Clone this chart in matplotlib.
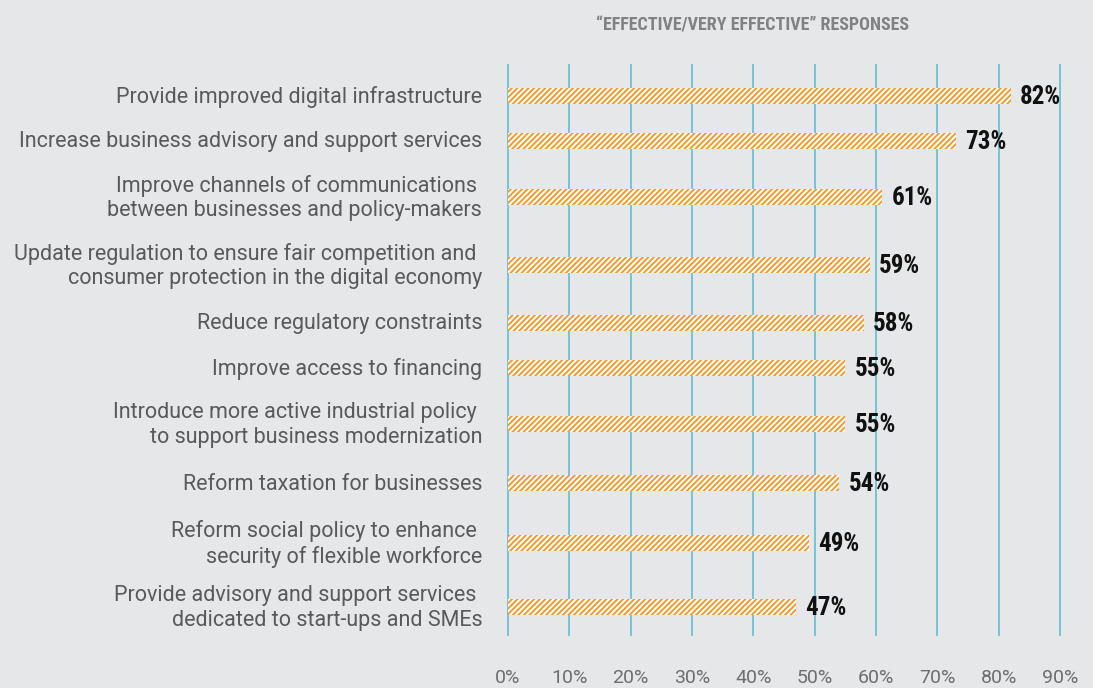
import matplotlib.pyplot as plt
import matplotlib as mpl

labels = ["Provide improved digital infrastructure",
          "Increase business advisory and support services",
          "Improve channels of communications \nbetween businesses and policy-makers",
          "Update regulation to ensure fair competition and \nconsumer protection in the digital economy",
          "Reduce regulatory constraints",
          "Improve access to financing",
          "Introduce more active industrial policy \nto support business modernization",
          "Reform taxation for businesses",
          "Reform social policy to enhance \nsecurity of flexible workforce",
          "Provide advisory and support services \ndedicated to start-ups and SMEs"]
values = [82, 73, 61, 59, 58, 55, 55, 54, 49, 47]
ticks = [0, 10, 20, 30, 40, 50, 60, 70, 80, 90]

# row centres in pixels from top (rows with two-line labels get more room)
rows = [96, 141, 197, 265, 323, 368, 424, 483, 543, 607]

bg = "#e6e7e8"
orange = "#f7941d"
narrow = ["Roboto Condensed", "DejaVu Sans"]
mpl.rcParams['hatch.linewidth'] = 1.3

fig = plt.figure(figsize=(10.93, 6.88), dpi=100, facecolor=bg)
W, H = 1093, 688
top, bot = 65, 635
ax = fig.add_axes([508 / W, 1 - bot / H, (1060 - 508) / W, (bot - top) / H])
ax.set_facecolor(bg)
ax.set_xlim(0, 90)
ax.set_ylim(bot, top)

for t in ticks:
    ax.axvline(t, color="#6cc0d6", lw=1.3, zorder=0, clip_on=False)

ax.barh(rows, values, height=16, color="white", edgecolor=orange,
        hatch="//////", lw=0, zorder=2)

for y, v, lab in zip(rows, values, labels):
    ax.text(v + 1.5, y + 1, f"{v}%", va="center", ha="left", fontsize=18,
            fontweight="bold", family=narrow, color="#111111", zorder=3)
    ax.text(-4.2, y + 1, lab, va="center", ha="right", fontsize=15.5,
            family="Roboto", color="#58595b", linespacing=1.2)

for s in ax.spines.values():
    s.set_visible(False)
ax.set_yticks([])
ax.set_xticks([])
for t in ticks:
    fig.text((508 + t * 552 / 90) / W, 1 - 678 / H, f"{t}%", ha="center",
             va="center", fontsize=14, family="Roboto", color="#6d6e70")

fig.text(753 / W, 1 - 26 / H, "\u201cEFFECTIVE/VERY EFFECTIVE\u201d RESPONSES",
         ha="center", va="center", fontsize=13, fontweight="bold",
         family=narrow, color="#808285")

fig.savefig("out.png", dpi=100, facecolor=bg)
